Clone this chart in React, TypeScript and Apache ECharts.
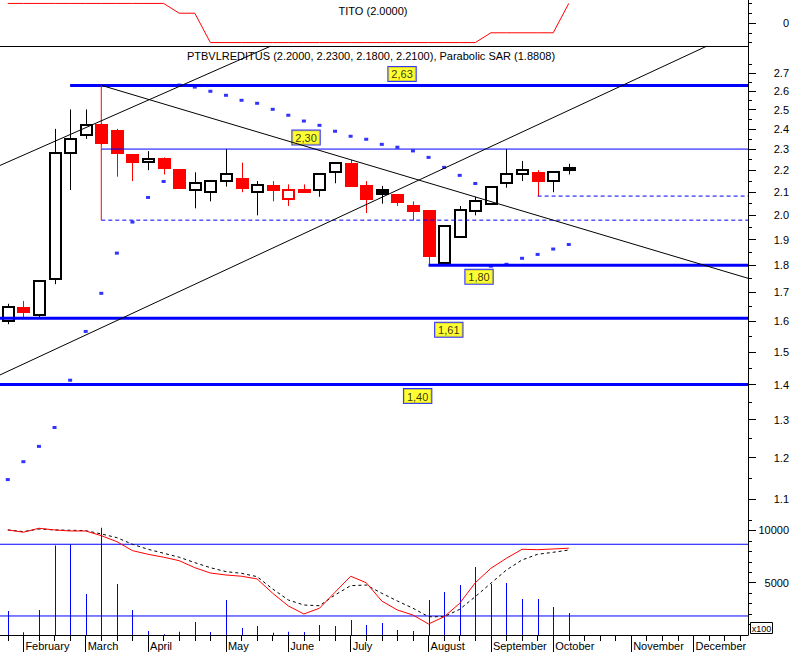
import React, { useEffect, useRef } from "react";
import * as echarts from "echarts";

// ---------- data ----------
const weeks = 48; // week slots on the time axis (37 traded weeks + future weeks)
const monthStarts = [1, 5, 9, 14, 18, 22, 27, 31, 35, 40, 44];
const monthLabels = ["February", "March", "April", "May", "June", "July", "August", "September", "October", "November", "December"];

const opens = [1.60, 1.645, 1.62, 1.75, 2.28, 2.37, 2.42, 2.39, 2.27, 2.24, 2.25, 2.20, 2.11, 2.10, 2.15, 2.16, 2.10, 2.128, 2.07, 2.10, 2.108, 2.19, 2.229, 2.128, 2.11, 2.088, 2.04, 2.018, 1.808, 1.91, 2.02, 2.048, 2.139, 2.181, 2.186, 2.15, 2.20];
const highs = [1.66, 1.67, 1.74, 2.40, 2.50, 2.50, 2.43, 2.40, 2.27, 2.29, 2.26, 2.20, 2.19, 2.15, 2.30, 2.235, 2.15, 2.15, 2.135, 2.135, 2.18, 2.232, 2.248, 2.15, 2.128, 2.088, 2.06, 2.02, 1.957, 2.04, 2.08, 2.122, 2.30, 2.243, 2.20, 2.19, 2.23];
const lows = [1.59, 1.61, 1.61, 1.73, 2.11, 2.35, 2.32, 2.17, 2.15, 2.20, 2.18, 2.12, 2.03, 2.06, 2.125, 2.10, 2.00, 2.06, 2.04, 2.10, 2.08, 2.14, 2.129, 2.01, 2.05, 2.04, 1.978, 1.80, 1.80, 1.91, 2.00, 2.048, 2.12, 2.15, 2.083, 2.10, 2.18];
const closes = [1.65, 1.63, 1.74, 2.28, 2.35, 2.42, 2.33, 2.28, 2.24, 2.25, 2.21, 2.12, 2.14, 2.15, 2.18, 2.12, 2.13, 2.112, 2.110, 2.108, 2.18, 2.232, 2.129, 2.069, 2.091, 2.058, 2.02, 1.837, 1.957, 2.021, 2.061, 2.122, 2.181, 2.199, 2.151, 2.19, 2.21];
const sar = [1.146, 1.190, 1.229, 1.279, 1.413, 1.566, 1.697, 1.847, 1.972, 2.077, 2.148, 2.632, 2.621, 2.598, 2.576, 2.549, 2.533, 2.501, 2.470, 2.440, 2.418, 2.388, 2.363, 2.348, 2.323, 2.309, 2.291, 2.260, 2.213, 2.176, 2.139, 1.797, 1.804, 1.827, 1.842, 1.863, 1.8808];
const tito = [2, 2, 2, 2, 2, 2, 2, 2, 2, 2, 2, 1, 1, -2, -2, -2, -2, -2, -2, -2, -2, -2, -2, -2, -2, -2, -2, -2, -2, -2, -2, -1, -1, -1, -1, -1, 2];
const volumes = [2300, 260, 2390, 8550, 8680, 3920, 10270, 4880, 2390, 380, 60, 320, 1240, 290, 3350, 670, 860, 220, 320, 290, 960, 860, 1440, 960, 1150, 480, 380, 3350, 4110, 4780, 6510, 4880, 4980, 3440, 3440, 2680, 2110];
const oscLine = [10050, 9830, 10210, 10050, 9950, 9950, 9500, 8930, 8070, 7720, 7440, 7110, 6440, 5930, 5740, 5620, 5360, 3990, 2780, 2010, 2560, 4090, 5620, 5000, 3250, 2390, 1910, 1050, 1750, 3030, 5000, 6380, 7340, 8200, 8160, 8230, 8300];
const oscSignal = [10050, 9890, 10140, 10050, 10020, 9980, 9670, 9310, 8680, 8200, 7820, 7440, 6920, 6440, 6060, 5900, 5580, 4400, 3350, 2870, 2800, 3830, 4720, 4780, 3990, 3250, 2560, 1750, 1750, 2460, 3670, 4950, 6220, 7180, 7720, 7910, 8130];
const volumeLevels = [8680, 1820];

const priceTicks = [1.1, 1.2, 1.3, 1.4, 1.5, 1.6, 1.7, 1.8, 1.9, 2.0, 2.1, 2.2, 2.3, 2.4, 2.5, 2.6, 2.7];
const priceMinorTicks = [1.15, 1.25, 1.35, 1.45, 1.55, 1.65, 1.75, 1.85, 1.95, 2.05, 2.15, 2.25, 2.35, 2.45, 2.55, 2.65, 2.75];
const volumeTicks = [5000, 10000];
const volumeMinorTicks = [1000, 2000, 3000, 4000, 6000, 7000, 8000, 9000, 11000];

// horizontal drawing levels: price, first week index
const levelPrices = [2.63, 2.30, 1.98, 1.80, 2.083, 1.61, 1.40];
const levelFrom = [4, 6, 6, 27, 34, -0.5, -0.5];
const levelTexts = ["2,63", "2,30", "", "1,80", "", "1,61", "1,40"];
// vertical marker (week, from price, to price)
const markerWeek = 6;
const markerPrices = [2.63, 1.98];
// trend lines: [week, price] anchors
const trendFrom = [[-0.5, 2.222], [-0.5, 1.4288], [6.03, 2.63]];
const trendTo = [[16.89, 2.858], [44.87, 2.858], [47.5, 1.7516]];

// ---------- layout ----------
const FONT = '"Liberation Sans", Arial, sans-serif';
const BLUE = "#0000ff";
const RED = "#ff0000";
const PLOT_W = 748;
const PRICE_TOP = 46;
const PRICE_BOTTOM = 520;
const LOG = (p: number) => Math.log10(p);
const perPx = (LOG(2.7) - LOG(1.1)) / (499 - 73);
const priceMax = LOG(2.7) + (73 - PRICE_TOP) * perPx;
const priceMin = LOG(1.1) - (PRICE_BOTTOM - 499) * perPx;
const levelThick = [3, 1, 1, 3, 1, 3, 3];
const levelDashed = [false, false, true, false, true, false, false];
const levelLabelAt = [25.3, 19.14, 0, 30.24, 0, 28.3, 26.3];
const levelLabelPos = ["top", "top", "", "bottom", "", "bottom", "bottom"];

function buildOption(): any {
  const weekIdx = Array.from({ length: weeks }, (_, i) => i);
  const xBase = (gridIndex: number) => ({
    gridIndex,
    type: "value",
    position: "bottom",
    min: -0.5,
    max: weeks - 0.5,
    splitLine: { show: false },
    axisLabel: { show: false },
    axisTick: { show: false },
    axisLine: { show: false, onZero: false },
  });
  const yBase = (gridIndex: number, min: number, max: number) => ({
    gridIndex,
    type: "value",
    position: "right",
    min,
    max,
    splitLine: { show: false },
    axisLabel: { show: false },
    axisTick: { show: false },
    axisLine: { show: false, onZero: false },
  });
  const labelStyle = { color: "#000", fontSize: 11, fontFamily: FONT, align: "right", margin: 41 };

  const candleData = opens.map((o, i) => {
    const c = closes[i];
    const prev = i > 0 ? closes[i - 1] : o;
    return [i, LOG(o), LOG(c), LOG(lows[i]), LOG(highs[i]), c < prev ? 1 : 0, c < o ? 1 : 0];
  });

  const series: any[] = [];
  // TITO
  series.push({
    type: "line", xAxisIndex: 0, yAxisIndex: 0, symbol: "none",
    data: tito.map((v, i) => [i, v]),
    lineStyle: { color: RED, width: 1 },
  });
  // candles
  series.push({
    type: "custom", xAxisIndex: 1, yAxisIndex: 2,
    data: candleData,
    encode: { x: 0, y: [1, 2, 3, 4] },
    renderItem: (params: any, api: any) => {
      const i = api.value(0);
      const pO = api.coord([i, api.value(1)]);
      const pC = api.coord([i, api.value(2)]);
      const pL = api.coord([i, api.value(3)]);
      const pH = api.coord([i, api.value(4)]);
      const color = api.value(5) === 1 ? RED : "#000";
      const filled = api.value(6) === 1;
      const cx = Math.round(pO[0]);
      const top = Math.round(Math.min(pO[1], pC[1]));
      const bot = Math.round(Math.max(pO[1], pC[1]));
      return {
        type: "group",
        children: [
          { type: "line", shape: { x1: cx + 0.5, y1: pH[1], x2: cx + 0.5, y2: pL[1] }, style: { stroke: color, lineWidth: 1 } },
          { type: "rect", shape: { x: cx - 5, y: top, width: 11, height: Math.max(bot - top, 1) }, style: { fill: filled ? color : "#fff", stroke: color, lineWidth: 2 } },
        ],
      };
    },
  });
  // horizontal levels
  levelPrices.forEach((p, k) => {
    series.push({
      type: "line", xAxisIndex: 1, yAxisIndex: 2, symbol: "none",
      data: [[levelFrom[k], LOG(p)], [weeks - 0.5, LOG(p)]],
      lineStyle: { color: BLUE, width: levelThick[k], type: levelDashed[k] ? [4, 3] : "solid" },
    });
  });
  // vertical marker
  series.push({
    type: "line", xAxisIndex: 1, yAxisIndex: 2, symbol: "none",
    data: markerPrices.map((p) => [markerWeek, LOG(p)]),
    lineStyle: { color: RED, width: 1 },
  });
  // trend lines
  trendFrom.forEach((a, k) => {
    const b = trendTo[k];
    series.push({
      type: "line", xAxisIndex: 1, yAxisIndex: 2, symbol: "none", clip: true,
      data: [[a[0], LOG(a[1])], [b[0], LOG(b[1])]],
      lineStyle: { color: "#000", width: 1 },
    });
  });
  // parabolic SAR
  series.push({
    type: "scatter", xAxisIndex: 1, yAxisIndex: 2,
    symbol: "rect", symbolSize: [4, 3],
    data: sar.map((s, i) => [i, LOG(s)]),
    itemStyle: { color: BLUE },
  });
  // level labels
  series.push({
    type: "scatter", xAxisIndex: 1, yAxisIndex: 2,
    symbol: "rect", symbolSize: 1,
    itemStyle: { color: "rgba(0,0,0,0)" },
    data: levelPrices
      .map((p, k) => ({ name: levelTexts[k], value: [levelLabelAt[k], LOG(p)], label: { position: levelLabelPos[k] } }))
      .filter((d) => d.name !== ""),
    label: {
      show: true, formatter: "{b}", distance: 4,
      color: "#000", fontSize: 11, fontFamily: FONT, lineHeight: 13,
      backgroundColor: "#ffff00", borderColor: BLUE, borderWidth: 1, padding: [1, 3, 0, 3],
    },
  });
  // volume bars (1px sticks)
  series.push({
    type: "custom", xAxisIndex: 2, yAxisIndex: 4,
    data: volumes.map((v, i) => [i, v]),
    encode: { x: 0, y: 1 },
    renderItem: (params: any, api: any) => {
      const top = api.coord([api.value(0), api.value(1)]);
      const base = api.coord([api.value(0), 0]);
      const cx = Math.round(top[0]);
      return {
        type: "rect",
        shape: { x: cx, y: top[1], width: 1, height: base[1] - top[1] },
        style: { fill: BLUE },
      };
    },
  });
  volumeLevels.forEach((v) => {
    series.push({
      type: "line", xAxisIndex: 2, yAxisIndex: 4, symbol: "none",
      data: [[-0.5, v], [weeks - 0.5, v]],
      lineStyle: { color: BLUE, width: 1 },
    });
  });
  series.push({
    type: "line", xAxisIndex: 2, yAxisIndex: 4, symbol: "none",
    data: oscSignal.map((v, i) => [i, v]),
    lineStyle: { color: "#000", width: 1, type: [3, 3] },
  });
  series.push({
    type: "line", xAxisIndex: 2, yAxisIndex: 4, symbol: "none",
    data: oscLine.map((v, i) => [i, v]),
    lineStyle: { color: RED, width: 1 },
  });

  return {
    animation: false,
    backgroundColor: "#fff",
    grid: [
      { left: 0, top: 0, width: PLOT_W, height: PRICE_TOP },
      { left: 0, top: PRICE_TOP, width: PLOT_W, height: PRICE_BOTTOM - PRICE_TOP },
      { left: 0, top: PRICE_BOTTOM, width: PLOT_W, height: 115 },
    ],
    xAxis: [
      { ...xBase(0), axisLine: { show: true, onZero: false, lineStyle: { color: "#000", width: 1 } } },
      { ...xBase(1) },
      {
        ...xBase(2),
        axisLine: { show: true, onZero: false, lineStyle: { color: "#000", width: 1 } },
        axisTick: { show: true, customValues: weekIdx, length: 6, lineStyle: { color: "#000" } },
      },
      {
        ...xBase(2),
        axisTick: { show: true, customValues: monthStarts, length: 17, lineStyle: { color: "#000" } },
        axisLabel: {
          show: true, customValues: monthStarts,
          formatter: (v: number) => monthLabels[monthStarts.indexOf(Math.round(v))] || "",
          align: "left", margin: 5, padding: [0, 0, 0, 2],
          color: "#000", fontSize: 11, fontFamily: FONT,
        },
      },
    ],
    yAxis: [
      {
        ...yBase(0, -2.35, 2.35),
        axisLine: { show: true, onZero: false, lineStyle: { color: "#000" } },
        axisTick: { show: true, customValues: [0], length: 8, lineStyle: { color: "#000" } },
        axisLabel: { show: true, customValues: [0], formatter: (v: number) => String(Math.round(v)), ...labelStyle },
      },
      {
        ...yBase(0, -2.35, 2.35),
        axisTick: { show: true, customValues: [-2, -1, 1, 2], length: 4, lineStyle: { color: "#000" } },
      },
      {
        ...yBase(1, priceMin, priceMax),
        axisLine: { show: true, onZero: false, lineStyle: { color: "#000" } },
        axisTick: { show: true, customValues: priceTicks.map(LOG), length: 8, lineStyle: { color: "#000" } },
        axisLabel: {
          show: true, customValues: priceTicks.map(LOG),
          formatter: (v: number) => Math.pow(10, v).toFixed(1), ...labelStyle,
        },
      },
      {
        ...yBase(1, priceMin, priceMax),
        axisTick: { show: true, customValues: priceMinorTicks.map(LOG), length: 4, lineStyle: { color: "#000" } },
      },
      {
        ...yBase(2, 0, 11000),
        axisLine: { show: true, onZero: false, lineStyle: { color: "#000" } },
        axisTick: { show: true, customValues: volumeTicks, length: 8, lineStyle: { color: "#000" } },
        axisLabel: { show: true, customValues: volumeTicks, formatter: (v: number) => String(Math.round(v)), ...labelStyle },
      },
      {
        ...yBase(2, 0, 11000),
        axisTick: { show: true, customValues: volumeMinorTicks, length: 4, lineStyle: { color: "#000" } },
      },
    ],
    graphic: [
      { type: "text", x: 373, y: 11, z: 10, style: { text: "TITO (2.0000)", fill: "#000", fontSize: 11, fontFamily: FONT, align: "center", verticalAlign: "middle" } },
      {
        type: "text", x: 371, y: 56, z: 10,
        style: { text: "PTBVLREDITUS (2.2000, 2.2300, 2.1800, 2.2100), Parabolic SAR (1.8808)", fill: "#000", fontSize: 11, fontFamily: FONT, align: "center", verticalAlign: "middle" },
      },
      { type: "rect", z: 10, shape: { x: 750.5, y: 622.5, width: 22, height: 11 }, style: { fill: "#fff", stroke: "#000", lineWidth: 1 } },
      { type: "text", x: 761.5, y: 628.5, z: 11, style: { text: "x100", fill: "#000", fontSize: 9, fontFamily: FONT, align: "center", verticalAlign: "middle" } },
    ],
    series,
  };
}

export default function App() {
  const ref = useRef<HTMLDivElement>(null);
  useEffect(() => {
    if (!ref.current) return;
    const chart = echarts.init(ref.current, null, { renderer: "svg" });
    chart.setOption(buildOption());
    return () => chart.dispose();
  }, []);
  return (
    <div
      ref={ref}
      style={{ position: "fixed", left: 0, top: 0, width: 795, height: 652, background: "#fff" }}
    />
  );
}
